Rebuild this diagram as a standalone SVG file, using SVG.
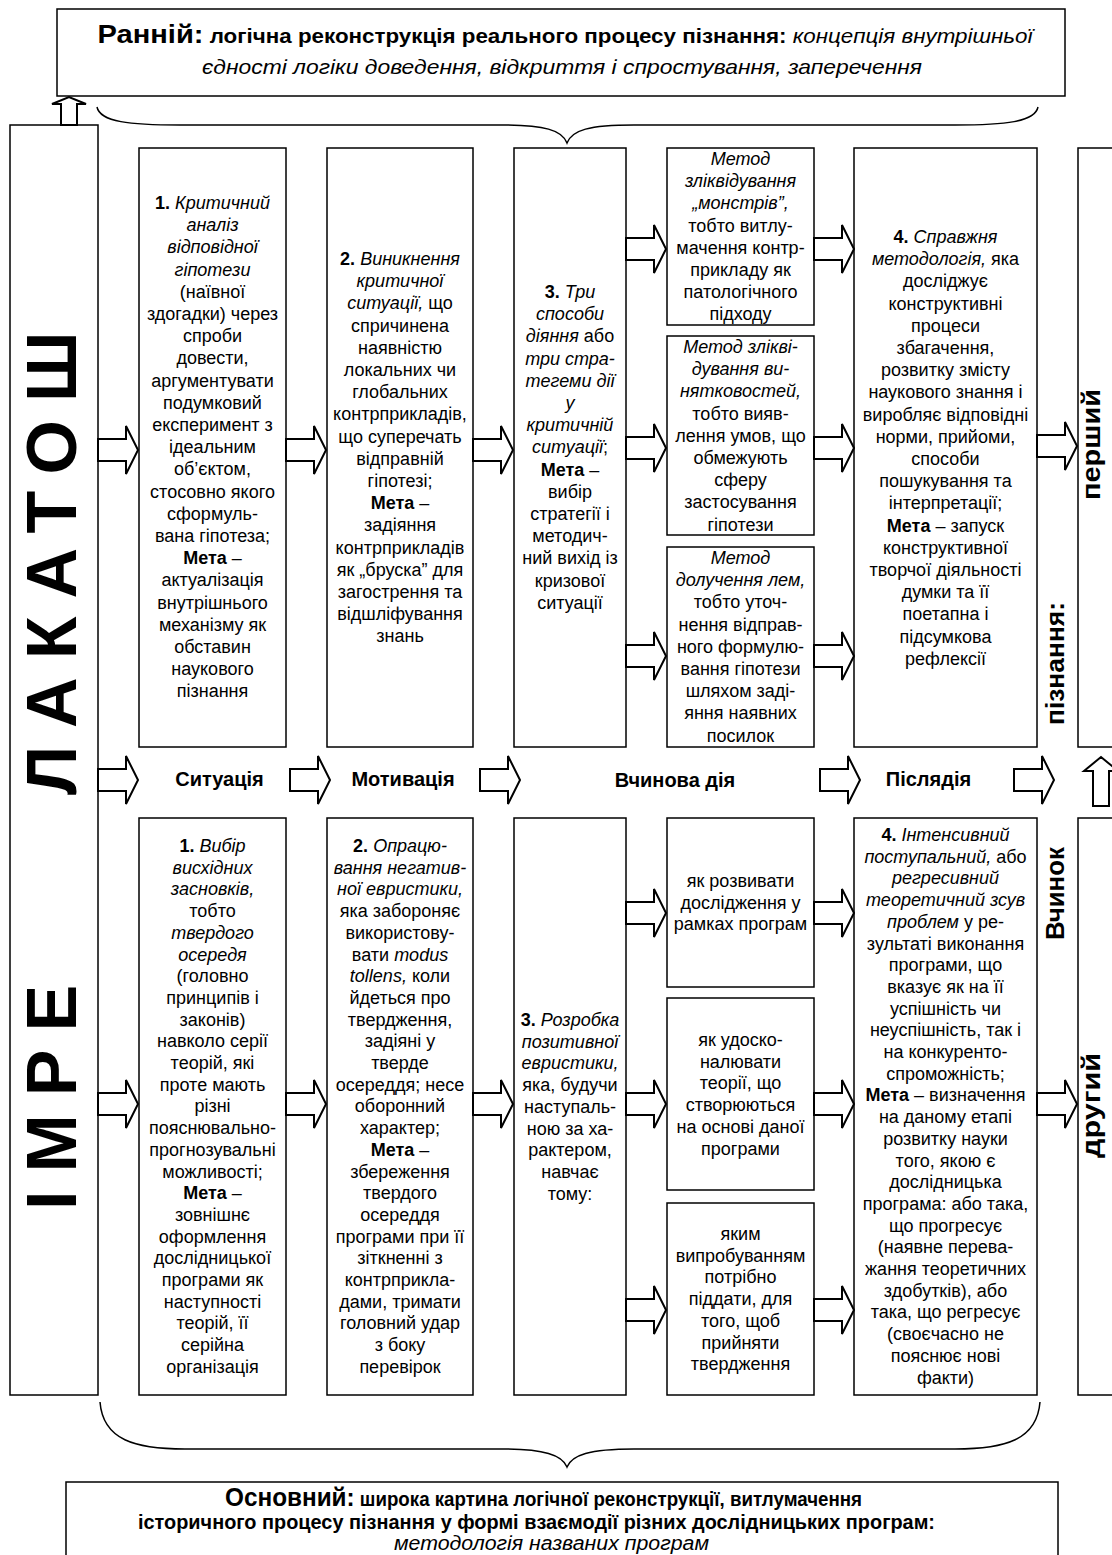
<svg xmlns="http://www.w3.org/2000/svg" width="1112" height="1555" viewBox="0 0 1112 1555">
<style>
.box{fill:#fff;stroke:#000;stroke-width:1.5}
.arr{fill:#fff;stroke:#000;stroke-width:2}
.brace{fill:none;stroke:#000;stroke-width:1.5}
text{font-family:"Liberation Sans",Arial,sans-serif;fill:#000}
.t{font-size:18px;text-anchor:middle}
.b{font-weight:bold}
.i{font-style:italic}
.big{font-size:70px;font-weight:bold}
.row{font-size:20px;font-weight:bold;text-anchor:middle}
.vl{font-size:26px;font-weight:bold}
</style>
<defs>
<path id="ar" d="M0,-11H28V-24L40,0L28,24V11H0Z"/>
</defs>
<rect width="1112" height="1555" fill="#fff"/>

<g id="top-box">
<rect class="box" x="57" y="9" width="1008" height="87"/>
<text x="565" y="43" text-anchor="middle" textLength="935" lengthAdjust="spacingAndGlyphs"><tspan class="b" font-size="26">Ранній:</tspan><tspan class="b" font-size="20"> логічна реконструкція реального процесу пізнання: </tspan><tspan class="i" font-size="20">концепція внутрішньої</tspan></text>
<text x="562" y="74" class="i" font-size="21" text-anchor="middle" textLength="720" lengthAdjust="spacingAndGlyphs">єдності логіки доведення, відкриття і спростування, заперечення</text>
</g>

<g id="top-brace"><path class="brace" d="M97,107C100,122 130,125 180,125L500,125C545,125 562,130 567,143C572,130 589,125 634,125L955,125C1005,125 1035,122 1038,107"/></g>

<g id="lakatos-column">
<rect class="box" x="10" y="125" width="88" height="1270"/>
<text class="big" transform="translate(76,795) rotate(-90)" letter-spacing="18">ЛАКАТОШ</text>
<text class="big" transform="translate(76,1210) rotate(-90)" letter-spacing="18">ІМРЕ</text>
</g>

<g id="u1">
<rect class="box" x="139" y="148" width="147" height="599"/>
<text class="t" x="212.5" y="209"><tspan x="212.5"><tspan class="b">1.</tspan> <tspan class="i">Критичний</tspan></tspan><tspan x="212.5" dy="22.2" class="i">аналіз</tspan><tspan x="212.5" dy="22.2" class="i">відповідної</tspan><tspan x="212.5" dy="22.2" class="i">гіпотези</tspan><tspan x="212.5" dy="22.2">(наївної</tspan><tspan x="212.5" dy="22.2">здогадки) через</tspan><tspan x="212.5" dy="22.2">спроби</tspan><tspan x="212.5" dy="22.2">довести,</tspan><tspan x="212.5" dy="22.2">аргументувати</tspan><tspan x="212.5" dy="22.2">подумковий</tspan><tspan x="212.5" dy="22.2">експеримент з</tspan><tspan x="212.5" dy="22.2">ідеальним</tspan><tspan x="212.5" dy="22.2">об’єктом,</tspan><tspan x="212.5" dy="22.2">стосовно якого</tspan><tspan x="212.5" dy="22.2">сформуль-</tspan><tspan x="212.5" dy="22.2">вана гіпотеза;</tspan><tspan x="212.5" dy="22.2"><tspan class="b">Мета</tspan> –</tspan><tspan x="212.5" dy="22.2">актуалізація</tspan><tspan x="212.5" dy="22.2">внутрішнього</tspan><tspan x="212.5" dy="22.2">механізму як</tspan><tspan x="212.5" dy="22.2">обставин</tspan><tspan x="212.5" dy="22.2">наукового</tspan><tspan x="212.5" dy="22.2">пізнання</tspan></text>
</g>

<g id="u2">
<rect class="box" x="327" y="148" width="146" height="599"/>
<text class="t" x="400" y="265"><tspan x="400"><tspan class="b">2.</tspan> <tspan class="i">Виникнення</tspan></tspan><tspan x="400" dy="22.2" class="i">критичної</tspan><tspan x="400" dy="22.2"><tspan class="i">ситуації,</tspan> що</tspan><tspan x="400" dy="22.2">спричинена</tspan><tspan x="400" dy="22.2">наявністю</tspan><tspan x="400" dy="22.2">локальних чи</tspan><tspan x="400" dy="22.2">глобальних</tspan><tspan x="400" dy="22.2">контрприкладів,</tspan><tspan x="400" dy="22.2">що суперечать</tspan><tspan x="400" dy="22.2">відправній</tspan><tspan x="400" dy="22.2">гіпотезі;</tspan><tspan x="400" dy="22.2"><tspan class="b">Мета</tspan> –</tspan><tspan x="400" dy="22.2">задіяння</tspan><tspan x="400" dy="22.2">контрприкладів</tspan><tspan x="400" dy="22.2">як „бруска” для</tspan><tspan x="400" dy="22.2">загострення та</tspan><tspan x="400" dy="22.2">відшліфування</tspan><tspan x="400" dy="22.2">знань</tspan></text>
</g>

<g id="u3">
<rect class="box" x="514" y="148" width="112" height="599"/>
<text class="t" x="570" y="298"><tspan x="570"><tspan class="b">3.</tspan> <tspan class="i">Три</tspan></tspan><tspan x="570" dy="22.2" class="i">способи</tspan><tspan x="570" dy="22.2"><tspan class="i">діяння</tspan> або</tspan><tspan x="570" dy="22.2" class="i">три стра-</tspan><tspan x="570" dy="22.2" class="i">тегеми дії</tspan><tspan x="570" dy="22.2" class="i">у</tspan><tspan x="570" dy="22.2" class="i">критичній</tspan><tspan x="570" dy="22.2"><tspan class="i">ситуації</tspan>;</tspan><tspan x="570" dy="22.2"><tspan class="b">Мета</tspan> –</tspan><tspan x="570" dy="22.2">вибір</tspan><tspan x="570" dy="22.2">стратегії і</tspan><tspan x="570" dy="22.2">методич-</tspan><tspan x="570" dy="22.2">ний вихід із</tspan><tspan x="570" dy="22.2">кризової</tspan><tspan x="570" dy="22.2">ситуації</tspan></text>
</g>

<g id="u3a">
<rect class="box" x="667" y="148" width="147" height="177"/>
<text class="t" x="740.5" y="165"><tspan x="740.5" class="i">Метод</tspan><tspan x="740.5" dy="22.2" class="i">зліквідування</tspan><tspan x="740.5" dy="22.2" class="i">„монстрів”,</tspan><tspan x="740.5" dy="22.2">тобто витлу-</tspan><tspan x="740.5" dy="22.2">мачення контр-</tspan><tspan x="740.5" dy="22.2">прикладу як</tspan><tspan x="740.5" dy="22.2">патологічного</tspan><tspan x="740.5" dy="22.2">підходу</tspan></text>
</g>

<g id="u3b">
<rect class="box" x="667" y="336" width="147" height="199"/>
<text class="t" x="740.5" y="353"><tspan x="740.5" class="i">Метод злікві-</tspan><tspan x="740.5" dy="22.2" class="i">дування ви-</tspan><tspan x="740.5" dy="22.2" class="i">нятковостей,</tspan><tspan x="740.5" dy="22.2">тобто вияв-</tspan><tspan x="740.5" dy="22.2">лення умов, що</tspan><tspan x="740.5" dy="22.2">обмежують</tspan><tspan x="740.5" dy="22.2">сферу</tspan><tspan x="740.5" dy="22.2">застосування</tspan><tspan x="740.5" dy="22.2">гіпотези</tspan></text>
</g>

<g id="u3c">
<rect class="box" x="667" y="547" width="147" height="200"/>
<text class="t" x="740.5" y="564"><tspan x="740.5" class="i">Метод</tspan><tspan x="740.5" dy="22.2" class="i">долучення лем,</tspan><tspan x="740.5" dy="22.2">тобто уточ-</tspan><tspan x="740.5" dy="22.2">нення відправ-</tspan><tspan x="740.5" dy="22.2">ного формулю-</tspan><tspan x="740.5" dy="22.2">вання гіпотези</tspan><tspan x="740.5" dy="22.2">шляхом заді-</tspan><tspan x="740.5" dy="22.2">яння наявних</tspan><tspan x="740.5" dy="22.2">посилок</tspan></text>
</g>

<g id="u4">
<rect class="box" x="854" y="148" width="183" height="599"/>
<text class="t" x="945.5" y="243"><tspan x="945.5"><tspan class="b">4.</tspan> <tspan class="i">Справжня</tspan></tspan><tspan x="945.5" dy="22.2"><tspan class="i">методологія,</tspan> яка</tspan><tspan x="945.5" dy="22.2">досліджує</tspan><tspan x="945.5" dy="22.2">конструктивні</tspan><tspan x="945.5" dy="22.2">процеси</tspan><tspan x="945.5" dy="22.2">збагачення,</tspan><tspan x="945.5" dy="22.2">розвитку змісту</tspan><tspan x="945.5" dy="22.2">наукового знання і</tspan><tspan x="945.5" dy="22.2">виробляє відповідні</tspan><tspan x="945.5" dy="22.2">норми, прийоми,</tspan><tspan x="945.5" dy="22.2">способи</tspan><tspan x="945.5" dy="22.2">пошукування та</tspan><tspan x="945.5" dy="22.2">інтерпретації;</tspan><tspan x="945.5" dy="22.2"><tspan class="b">Мета</tspan> – запуск</tspan><tspan x="945.5" dy="22.2">конструктивної</tspan><tspan x="945.5" dy="22.2">творчої діяльності</tspan><tspan x="945.5" dy="22.2">думки та її</tspan><tspan x="945.5" dy="22.2">поетапна і</tspan><tspan x="945.5" dy="22.2">підсумкова</tspan><tspan x="945.5" dy="22.2">рефлексії</tspan></text>
</g>

<g id="right-upper">
<rect class="box" x="1078" y="148" width="60" height="599"/>
<text class="vl" transform="translate(1100,500) rotate(-90)" textLength="111" lengthAdjust="spacingAndGlyphs">перший</text>
</g>

<g id="label-piznannia">
<text class="vl" transform="translate(1064,725) rotate(-90)" textLength="123" lengthAdjust="spacingAndGlyphs">пізнання:</text>
</g>

<g id="row-labels">
<text class="row" x="219.5" y="786">Ситуація</text>
<text class="row" x="403" y="786">Мотивація</text>
<text class="row" x="675" y="787">Вчинова дія</text>
<text class="row" x="928.5" y="786">Післядія</text>
</g>

<g id="l1">
<rect class="box" x="139" y="818" width="147" height="577"/>
<text class="t" x="212.5" y="852"><tspan x="212.5"><tspan class="b">1.</tspan> <tspan class="i">Вибір</tspan></tspan><tspan x="212.5" dy="21.7" class="i">висхідних</tspan><tspan x="212.5" dy="21.7" class="i">засновків,</tspan><tspan x="212.5" dy="21.7">тобто</tspan><tspan x="212.5" dy="21.7" class="i">твердого</tspan><tspan x="212.5" dy="21.7" class="i">осередя</tspan><tspan x="212.5" dy="21.7">(головно</tspan><tspan x="212.5" dy="21.7">принципів і</tspan><tspan x="212.5" dy="21.7">законів)</tspan><tspan x="212.5" dy="21.7">навколо серії</tspan><tspan x="212.5" dy="21.7">теорій, які</tspan><tspan x="212.5" dy="21.7">проте мають</tspan><tspan x="212.5" dy="21.7">різні</tspan><tspan x="212.5" dy="21.7">пояснювально-</tspan><tspan x="212.5" dy="21.7">прогнозувальні</tspan><tspan x="212.5" dy="21.7">можливості;</tspan><tspan x="212.5" dy="21.7"><tspan class="b">Мета</tspan> –</tspan><tspan x="212.5" dy="21.7">зовнішнє</tspan><tspan x="212.5" dy="21.7">оформлення</tspan><tspan x="212.5" dy="21.7">дослідницької</tspan><tspan x="212.5" dy="21.7">програми як</tspan><tspan x="212.5" dy="21.7">наступності</tspan><tspan x="212.5" dy="21.7">теорій, її</tspan><tspan x="212.5" dy="21.7">серійна</tspan><tspan x="212.5" dy="21.7">організація</tspan></text>
</g>

<g id="l2">
<rect class="box" x="327" y="818" width="146" height="577"/>
<text class="t" x="400" y="852"><tspan x="400"><tspan class="b">2.</tspan> <tspan class="i">Опрацю-</tspan></tspan><tspan x="400" dy="21.7" class="i">вання негатив-</tspan><tspan x="400" dy="21.7" class="i">ної евристики,</tspan><tspan x="400" dy="21.7">яка забороняє</tspan><tspan x="400" dy="21.7">використову-</tspan><tspan x="400" dy="21.7">вати <tspan class="i">modus</tspan></tspan><tspan x="400" dy="21.7"><tspan class="i">tollens,</tspan> коли</tspan><tspan x="400" dy="21.7">йдеться про</tspan><tspan x="400" dy="21.7">твердження,</tspan><tspan x="400" dy="21.7">задіяні у</tspan><tspan x="400" dy="21.7">тверде</tspan><tspan x="400" dy="21.7">осереддя; несе</tspan><tspan x="400" dy="21.7">оборонний</tspan><tspan x="400" dy="21.7">характер;</tspan><tspan x="400" dy="21.7"><tspan class="b">Мета</tspan> –</tspan><tspan x="400" dy="21.7">збереження</tspan><tspan x="400" dy="21.7">твердого</tspan><tspan x="400" dy="21.7">осереддя</tspan><tspan x="400" dy="21.7">програми при її</tspan><tspan x="400" dy="21.7">зіткненні з</tspan><tspan x="400" dy="21.7">контрприкла-</tspan><tspan x="400" dy="21.7">дами, тримати</tspan><tspan x="400" dy="21.7">головний удар</tspan><tspan x="400" dy="21.7">з боку</tspan><tspan x="400" dy="21.7">перевірок</tspan></text>
</g>

<g id="l3">
<rect class="box" x="514" y="818" width="112" height="577"/>
<text class="t" x="570" y="1026"><tspan x="570"><tspan class="b">3.</tspan> <tspan class="i">Розробка</tspan></tspan><tspan x="570" dy="21.7" class="i">позитивної</tspan><tspan x="570" dy="21.7" class="i">евристики,</tspan><tspan x="570" dy="21.7">яка, будучи</tspan><tspan x="570" dy="21.7">наступаль-</tspan><tspan x="570" dy="21.7">ною за ха-</tspan><tspan x="570" dy="21.7">рактером,</tspan><tspan x="570" dy="21.7">навчає</tspan><tspan x="570" dy="21.7">тому:</tspan></text>
</g>

<g id="l3a">
<rect class="box" x="667" y="818" width="147" height="169"/>
<text class="t" x="740.5" y="887"><tspan x="740.5">як розвивати</tspan><tspan x="740.5" dy="21.7">дослідження у</tspan><tspan x="740.5" dy="21.7">рамках програм</tspan></text>
</g>

<g id="l3b">
<rect class="box" x="667" y="998" width="147" height="192"/>
<text class="t" x="740.5" y="1046"><tspan x="740.5">як удоско-</tspan><tspan x="740.5" dy="21.7">налювати</tspan><tspan x="740.5" dy="21.7">теорії, що</tspan><tspan x="740.5" dy="21.7">створюються</tspan><tspan x="740.5" dy="21.7">на основі даної</tspan><tspan x="740.5" dy="21.7">програми</tspan></text>
</g>

<g id="l3c">
<rect class="box" x="667" y="1203" width="147" height="192"/>
<text class="t" x="740.5" y="1240"><tspan x="740.5">яким</tspan><tspan x="740.5" dy="21.7">випробуванням</tspan><tspan x="740.5" dy="21.7">потрібно</tspan><tspan x="740.5" dy="21.7">піддати, для</tspan><tspan x="740.5" dy="21.7">того, щоб</tspan><tspan x="740.5" dy="21.7">прийняти</tspan><tspan x="740.5" dy="21.7">твердження</tspan></text>
</g>

<g id="l4">
<rect class="box" x="854" y="818" width="183" height="577"/>
<text class="t" x="945.5" y="841"><tspan x="945.5"><tspan class="b">4.</tspan> <tspan class="i">Інтенсивний</tspan></tspan><tspan x="945.5" dy="21.7"><tspan class="i">поступальний,</tspan> або</tspan><tspan x="945.5" dy="21.7" class="i">регресивний</tspan><tspan x="945.5" dy="21.7" class="i">теоретичний зсув</tspan><tspan x="945.5" dy="21.7"><tspan class="i">проблем</tspan> у ре-</tspan><tspan x="945.5" dy="21.7">зультаті виконання</tspan><tspan x="945.5" dy="21.7">програми, що</tspan><tspan x="945.5" dy="21.7">вказує як на її</tspan><tspan x="945.5" dy="21.7">успішність чи</tspan><tspan x="945.5" dy="21.7">неуспішність, так і</tspan><tspan x="945.5" dy="21.7">на конкуренто-</tspan><tspan x="945.5" dy="21.7">спроможність;</tspan><tspan x="945.5" dy="21.7"><tspan class="b">Мета</tspan> – визначення</tspan><tspan x="945.5" dy="21.7">на даному етапі</tspan><tspan x="945.5" dy="21.7">розвитку науки</tspan><tspan x="945.5" dy="21.7">того, якою є</tspan><tspan x="945.5" dy="21.7">дослідницька</tspan><tspan x="945.5" dy="21.7">програма: або така,</tspan><tspan x="945.5" dy="21.7">що прогресує</tspan><tspan x="945.5" dy="21.7">(наявне перева-</tspan><tspan x="945.5" dy="21.7">жання теоретичних</tspan><tspan x="945.5" dy="21.7">здобутків), або</tspan><tspan x="945.5" dy="21.7">така, що регресує</tspan><tspan x="945.5" dy="21.7">(своєчасно не</tspan><tspan x="945.5" dy="21.7">пояснює нові</tspan><tspan x="945.5" dy="21.7">факти)</tspan></text>
</g>

<g id="label-vchynok">
<text class="vl" transform="translate(1064,940) rotate(-90)" textLength="93" lengthAdjust="spacingAndGlyphs">Вчинок</text>
</g>

<g id="right-lower">
<rect class="box" x="1078" y="818" width="60" height="577"/>
<text class="vl" transform="translate(1100,1158) rotate(-90)" textLength="105" lengthAdjust="spacingAndGlyphs">другий</text>
</g>

<g id="bottom-brace"><path class="brace" d="M100,1402C103,1440 135,1449 185,1449L500,1449C545,1449 562,1455 567,1467C572,1455 589,1449 634,1449L955,1449C1005,1449 1037,1440 1040,1402"/></g>

<g id="bottom-box">
<rect class="box" x="66" y="1482" width="992" height="82"/>
<text x="543.5" y="1506" text-anchor="middle" textLength="637" lengthAdjust="spacingAndGlyphs"><tspan class="b" font-size="26">Основний:</tspan><tspan class="b" font-size="20"> широка картина логічної реконструкції, витлумачення</tspan></text>
<text x="536.5" y="1529" class="b" font-size="20" text-anchor="middle" textLength="797" lengthAdjust="spacingAndGlyphs">історичного процесу пізнання у формі взаємодії різних дослідницьких програм:</text>
<text x="551.5" y="1550" class="i" font-size="20" text-anchor="middle" textLength="315" lengthAdjust="spacingAndGlyphs">методологія названих програм</text>
</g>

<g id="connectors">
<path class="arr" d="M61,125V104H52L69,97L86,104H77V125Z"/>
<path class="arr" d="M1093,806V771H1084L1101,757L1118,771H1109V806Z"/>
<use href="#ar" class="arr" x="98" y="450"/>
<use href="#ar" class="arr" x="286" y="450"/>
<use href="#ar" class="arr" x="473" y="450"/>
<use href="#ar" class="arr" x="626" y="249"/>
<use href="#ar" class="arr" x="626" y="448"/>
<use href="#ar" class="arr" x="626" y="656"/>
<use href="#ar" class="arr" x="814" y="249"/>
<use href="#ar" class="arr" x="814" y="448"/>
<use href="#ar" class="arr" x="814" y="656"/>
<use href="#ar" class="arr" x="1037" y="446"/>
<use href="#ar" class="arr" x="98" y="780"/>
<use href="#ar" class="arr" x="290" y="780"/>
<use href="#ar" class="arr" x="480" y="780"/>
<use href="#ar" class="arr" x="820" y="780"/>
<use href="#ar" class="arr" x="1014" y="780"/>
<use href="#ar" class="arr" x="98" y="1104"/>
<use href="#ar" class="arr" x="286" y="1104"/>
<use href="#ar" class="arr" x="473" y="1104"/>
<use href="#ar" class="arr" x="626" y="913"/>
<use href="#ar" class="arr" x="626" y="1104"/>
<use href="#ar" class="arr" x="626" y="1310"/>
<use href="#ar" class="arr" x="814" y="913"/>
<use href="#ar" class="arr" x="814" y="1104"/>
<use href="#ar" class="arr" x="814" y="1310"/>
<use href="#ar" class="arr" x="1037" y="1104"/>
</g>
</svg>
